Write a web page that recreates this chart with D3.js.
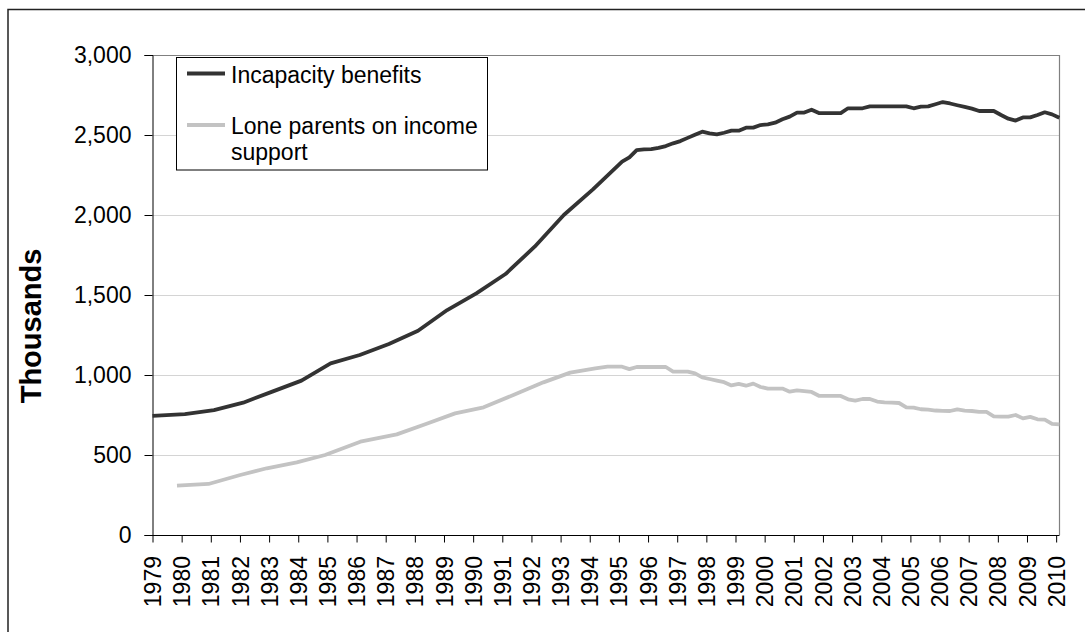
<!DOCTYPE html>
<html>
<head>
<meta charset="utf-8">
<script src="https://cdn.jsdelivr.net/npm/d3@7"></script>
<style>
  html, body { margin: 0; padding: 0; background: #fff; }
  svg { display: block; font-family: "Liberation Sans", Arial, sans-serif; }
</style>
</head>
<body>
<svg id="chart" width="1085" height="632"></svg>
<script>
// ---------- DATA ----------
const seriesNames = ["Incapacity benefits", "Lone parents on income support"];
const yTicks = [0, 500, 1000, 1500, 2000, 2500, 3000];
const xTickYears = d3.range(1979, 2011);

// Incapacity benefits (thousands); time in decimal years
const ibTime = [1979.0, 1980.11, 1981.11, 1982.11, 1983.11, 1984.11, 1985.11, 1986.11, 1987.11, 1988.11,
  1989.11, 1990.11, 1991.11, 1992.11, 1993.11, 1994.11,
  1995.11, 1995.36, 1995.61, 1995.86, 1996.11, 1996.36, 1996.61, 1996.86,
  1997.11, 1997.36, 1997.61, 1997.86, 1998.11, 1998.36, 1998.61, 1998.86,
  1999.11, 1999.36, 1999.61, 1999.86, 2000.11, 2000.36, 2000.61, 2000.86,
  2001.11, 2001.36, 2001.61, 2001.86, 2002.11, 2002.36, 2002.61, 2002.86,
  2003.11, 2003.36, 2003.61, 2003.86, 2004.11, 2004.36, 2004.61, 2004.86,
  2005.11, 2005.36, 2005.61, 2005.86, 2006.11, 2006.36, 2006.61, 2006.86,
  2007.11, 2007.36, 2007.61, 2007.86, 2008.11, 2008.36, 2008.61, 2008.86,
  2009.11, 2009.36, 2009.61, 2009.86, 2010.11];
const ibValues = [744, 756, 781, 827, 896, 965, 1073, 1125, 1194, 1277,
  1406, 1510, 1631, 1802, 2000, 2160,
  2333, 2360, 2406, 2410, 2412, 2420, 2431, 2448,
  2462, 2482, 2502, 2521, 2510, 2504, 2514, 2527,
  2527, 2546, 2546, 2562, 2567, 2577, 2598, 2615,
  2640, 2640, 2658, 2637, 2637, 2637, 2637, 2667,
  2667, 2667, 2679, 2679, 2679, 2679, 2679, 2679,
  2667, 2677, 2679, 2692, 2706, 2697, 2686, 2676,
  2665, 2650, 2650, 2650, 2625, 2602, 2590, 2610,
  2610, 2625, 2642, 2629, 2608];

// Lone parents on income support (thousands)
const lpTime = [1979.84, 1980.92, 1982.01, 1982.92, 1983.95, 1984.92, 1986.13, 1987.38, 1988.38, 1989.38,
  1990.36, 1991.38, 1992.41, 1993.33, 1994.19, 1994.61, 1994.86,
  1995.11, 1995.36, 1995.61, 1995.86, 1996.11, 1996.36, 1996.61, 1996.86,
  1997.11, 1997.36, 1997.61, 1997.86, 1998.11, 1998.36, 1998.61, 1998.86,
  1999.11, 1999.36, 1999.61, 1999.86, 2000.11, 2000.36, 2000.61, 2000.86,
  2001.11, 2001.36, 2001.61, 2001.86, 2002.11, 2002.36, 2002.61, 2002.86,
  2003.11, 2003.36, 2003.61, 2003.86, 2004.11, 2004.36, 2004.61, 2004.86,
  2005.11, 2005.36, 2005.61, 2005.86, 2006.11, 2006.36, 2006.61, 2006.86,
  2007.11, 2007.36, 2007.61, 2007.86, 2008.11, 2008.36, 2008.61, 2008.86,
  2009.11, 2009.36, 2009.61, 2009.86, 2010.11];
const lpValues = [308, 319, 375, 417, 454, 500, 583, 629, 694, 760,
  798, 875, 954, 1015, 1042, 1052, 1052,
  1052, 1037, 1050, 1050, 1050, 1050, 1050, 1021,
  1021, 1021, 1010, 985, 975, 965, 955, 935,
  944, 933, 946, 925, 915, 915, 915, 896,
  904, 899, 894, 870, 869, 869, 869, 848,
  840, 850, 850, 834, 829, 827, 825, 798,
  796, 786, 783, 778, 776, 775, 785, 777,
  775, 769, 769, 742, 740, 740, 750, 729,
  738, 723, 721, 694, 692];

// ---------- LAYOUT ----------
const svg = d3.select("#chart");
const plot = { left: 152.5, right: 1059.5, top: 55, bottom: 535 };
const x = d3.scaleLinear().domain([1979, 2010.115]).range([plot.left, plot.right]);
const y = d3.scaleLinear().domain([0, 3000]).range([plot.bottom, plot.top]);
const FONT = 23;

svg.append("rect").attr("width", 1085).attr("height", 632).attr("fill", "#fff");

// outer frame (extends beyond visible area)
svg.append("path").attr("d", "M8,650V9.5H1100")
  .attr("fill", "none").attr("stroke", "#222").attr("stroke-width", 1.5);

// gridlines
svg.append("g").selectAll("line").data(yTicks.filter(v => v > 0 && v < 3000)).join("line")
  .attr("x1", plot.left).attr("x2", plot.right)
  .attr("y1", d => Math.round(y(d)) + 0.5).attr("y2", d => Math.round(y(d)) + 0.5)
  .attr("stroke", "#d4d4d4").attr("stroke-width", 1);

// plot area border top / right
svg.append("path")
  .attr("d", `M${plot.left},${y(3000) + 0.5}H${plot.right}V${plot.bottom}`)
  .attr("fill", "none").attr("stroke", "#808080").attr("stroke-width", 1.2);

// Y axis
const yAxis = d3.axisLeft(y).tickValues(yTicks).tickSize(8).tickPadding(13)
  .tickFormat(d3.format(","));
const gy = svg.append("g").attr("transform", `translate(${plot.left},0)`).call(yAxis);
gy.select(".domain").attr("stroke", "#000");
gy.selectAll(".tick line").attr("stroke", "#000");
gy.selectAll(".tick text").attr("font-size", FONT).attr("fill", "#000")
  .attr("font-family", "Liberation Sans, Arial, sans-serif");

// X axis
const xAxis = d3.axisBottom(x).tickValues(xTickYears).tickSize(7).tickFormat(d3.format("d"));
const gx = svg.append("g").attr("transform", `translate(0,${plot.bottom + 0.5})`).call(xAxis);
gx.select(".domain").attr("stroke", "#000").attr("d", `M${plot.left},0H${plot.right}`);
gx.selectAll(".tick line").attr("stroke", "#000");
gx.selectAll(".tick text")
  .attr("font-size", FONT).attr("fill", "#000")
  .attr("font-family", "Liberation Sans, Arial, sans-serif")
  .attr("text-anchor", "end")
  .attr("transform", "translate(0,20.5) rotate(-90)")
  .attr("x", 0).attr("y", 0).attr("dy", "0.35em");

// Y title
svg.append("text")
  .attr("transform", "translate(31,326) rotate(-90)")
  .attr("text-anchor", "middle").attr("dy", "0.35em")
  .attr("font-size", 29).attr("font-weight", "bold").attr("fill", "#000")
  .text("Thousands");

// lines
const line = d3.line().x(d => x(d[0])).y(d => y(d[1]));
const ibData = d3.zip(ibTime, ibValues);
const lpData = d3.zip(lpTime, lpValues);

svg.append("path").datum(lpData).attr("d", line)
  .attr("fill", "none").attr("stroke", "#c3c3c3").attr("stroke-width", 3.8)
  .attr("stroke-linejoin", "round");
svg.append("path").datum(ibData).attr("d", line)
  .attr("fill", "none").attr("stroke", "#333333").attr("stroke-width", 3.8)
  .attr("stroke-linejoin", "round");

// legend
const lg = svg.append("g");
lg.append("rect").attr("x", 176.5).attr("y", 57.5).attr("width", 311).attr("height", 112.5)
  .attr("fill", "#fff").attr("stroke", "#000").attr("stroke-width", 1);
lg.append("line").attr("x1", 187).attr("x2", 225).attr("y1", 73.5).attr("y2", 73.5)
  .attr("stroke", "#333333").attr("stroke-width", 3.8);
lg.append("line").attr("x1", 187).attr("x2", 225).attr("y1", 125).attr("y2", 125)
  .attr("stroke", "#c3c3c3").attr("stroke-width", 3.8);
lg.append("text").attr("x", 231).attr("y", 82.5).attr("font-size", FONT).attr("fill", "#000")
  .text(seriesNames[0]);
const t2 = lg.append("text").attr("x", 231).attr("y", 133.5).attr("font-size", FONT).attr("fill", "#000");
t2.append("tspan").attr("x", 231).text("Lone parents on income");
t2.append("tspan").attr("x", 231).attr("dy", 26).text("support");
</script>
</body>
</html>
